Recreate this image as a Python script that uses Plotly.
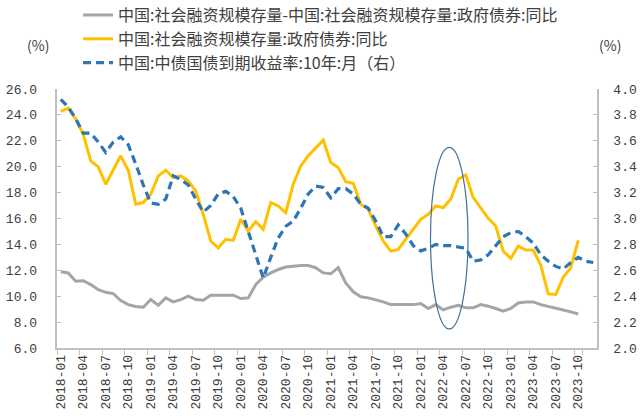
import plotly.graph_objects as go

# month categories 2018-01 .. 2023-12
months = [f"{y}-{m:02d}" for y in range(2018, 2024) for m in range(1, 13)]

name_gray = "中国:社会融资规模存量-中国:社会融资规模存量:政府债券:同比"
name_gold = "中国:社会融资规模存量:政府债券:同比"
name_blue = "中国:中债国债到期收益率:10年:月（右）"

# 社融存量(剔除政府债券)同比, %, 2018-01 .. 2023-10
gray_vals = [11.88, 11.80, 11.16, 11.20, 10.90, 10.50, 10.30, 10.20, 9.66, 9.35, 9.20, 9.15,
             9.74, 9.30, 9.87, 9.56, 9.74, 10.00, 9.74, 9.69, 10.08, 10.08, 10.08, 10.08,
             9.82, 9.87, 10.90, 11.47, 11.80, 12.06, 12.25, 12.32, 12.37, 12.37, 12.20, 11.80,
             11.73, 12.20, 11.03, 10.34, 9.95, 9.87, 9.74, 9.56, 9.35, 9.35, 9.30, 9.35,
             9.43, 9.05, 9.35, 8.94, 9.15, 9.30, 9.10, 9.10, 9.35, 9.23, 9.05, 8.84,
             9.05, 9.48, 9.56, 9.56, 9.35, 9.23, 9.10, 8.94, 8.79, 8.63]

# 政府债券存量同比, %, 2018-01 .. 2023-10
gold_vals = [24.27, 24.53, 23.68, 22.50, 20.45, 19.99, 18.65, 19.80, 20.84, 19.73, 17.10, 17.23,
             17.87, 19.29, 19.73, 19.16, 19.29, 18.90, 18.13, 16.32, 14.26, 13.74, 14.39, 14.31,
             15.94, 15.03, 15.75, 15.16, 17.23, 16.97, 16.45, 18.65, 20.06, 20.84, 21.48, 22.05,
             20.32, 19.94, 18.85, 18.72, 17.10, 16.71, 15.42, 14.26, 13.48, 13.61, 14.39, 15.16,
             15.94, 16.32, 16.97, 16.84, 17.48, 19.03, 19.37, 17.61, 16.84, 16.01, 15.42, 13.48,
             12.92, 13.87, 13.56, 13.56, 12.40, 10.18, 10.13, 11.47, 12.19, 14.31]

# 10年国债收益率, %, 2018-01 .. 2023-12 (right axis)
blue_vals = [3.92, 3.86, 3.77, 3.66, 3.66, 3.59, 3.51, 3.59, 3.63, 3.57, 3.42, 3.26,
             3.12, 3.11, 3.15, 3.33, 3.30, 3.26, 3.15, 3.05, 3.10, 3.19, 3.21, 3.17,
             3.08, 2.90, 2.70, 2.54, 2.70, 2.85, 2.94, 2.98, 3.08, 3.19, 3.25, 3.24,
             3.16, 3.23, 3.23, 3.19, 3.11, 3.08, 2.98, 2.86, 2.86, 2.95, 2.88, 2.79,
             2.75, 2.77, 2.80, 2.79, 2.79, 2.78, 2.77, 2.67, 2.68, 2.72, 2.79, 2.86,
             2.89, 2.90, 2.86, 2.81, 2.72, 2.67, 2.63, 2.61, 2.66, 2.70, 2.67, 2.66]

tick_labels = months[::3]
left_ticks = [6, 8, 10, 12, 14, 16, 18, 20, 22, 24, 26]
right_ticks = [2.0, 2.2, 2.4, 2.6, 2.8, 3.0, 3.2, 3.4, 3.6, 3.8, 4.0]

cjk = "Noto Sans CJK SC"
mono = "Liberation Mono"
axis_col = "#BFBFBF"
txt_col = "#404040"
pad = "\u00a0\u00a0"

fig = go.Figure()

fig.add_trace(go.Scatter(
    x=months[:len(gray_vals)], y=gray_vals, name=name_gray, mode="lines",
    line=dict(color="#A5A5A5", width=3), legendgroup="a"))

fig.add_trace(go.Scatter(
    x=months[:len(gold_vals)], y=gold_vals, name=name_gold, mode="lines",
    line=dict(color="#FFC000", width=3), legendgroup="b"))

fig.add_trace(go.Scatter(
    x=months[:len(blue_vals)], y=blue_vals, name=name_blue, mode="lines",
    line=dict(color="#2E75B6", width=3.2, dash="8px,5px"), yaxis="y2", legendgroup="c"))

# highlight ellipse around 2022 Q2
fig.add_shape(type="circle", xref="x", yref="y", x0=49.3, x1=54.3, y0=7.48, y1=21.49,
              line=dict(color="#41719C", width=1.2))

fig.add_annotation(text="(%)", xref="paper", yref="paper", x=-0.035, y=1.17,
                   xanchor="center", yanchor="middle",
                   showarrow=False, font=dict(family=cjk, size=14, color=txt_col))
fig.add_annotation(text="(%)", xref="paper", yref="paper", x=1.024, y=1.17,
                   xanchor="center", yanchor="middle",
                   showarrow=False, font=dict(family=cjk, size=14, color=txt_col))

fig.update_layout(
    width=640, height=418,
    margin=dict(l=57, r=43, t=89, b=70, autoexpand=False),
    paper_bgcolor="white", plot_bgcolor="white",
    showlegend=True,
    legend=dict(x=0.039, y=1.351, xanchor="left", yanchor="top", orientation="v",
                tracegroupgap=0, font=dict(family=cjk, size=16, color=txt_col),
                bgcolor="rgba(0,0,0,0)"),
    xaxis=dict(type="category", categoryorder="array", categoryarray=months,
               range=[-0.5, len(months) - 0.5], automargin=False,
               tickmode="array", tickvals=tick_labels, ticktext=tick_labels,
               tickson="boundaries", tickangle=-90,
               ticks="outside", ticklen=5, tickcolor=axis_col,
               showline=True, linecolor=axis_col, linewidth=1.5,
               showgrid=False, zeroline=False,
               tickfont=dict(family=mono, size=13, color=txt_col)),
    yaxis=dict(range=[6, 26], automargin=False,
               tickmode="array", tickvals=left_ticks,
               ticktext=[f"{v:.1f}" + pad for v in left_ticks],
               ticks="inside", ticklen=4, tickcolor=axis_col,
               showline=True, linecolor=axis_col, linewidth=1.5,
               showgrid=False, zeroline=False,
               tickfont=dict(family=mono, size=13, color=txt_col)),
    yaxis2=dict(range=[2, 4], overlaying="y", side="right", automargin=False,
                tickmode="array", tickvals=right_ticks,
                ticktext=[f"{v:.1f}" for v in right_ticks],
                ticks="inside", ticklen=4, tickcolor=axis_col,
                showline=True, linecolor=axis_col, linewidth=1.5,
                showgrid=False, zeroline=False, ticklabelstandoff=12,
                tickfont=dict(family=mono, size=13, color=txt_col)),
)

fig.write_html("out.html", config={"displayModeBar": False},
               post_script="document.body.style.margin='0';")
